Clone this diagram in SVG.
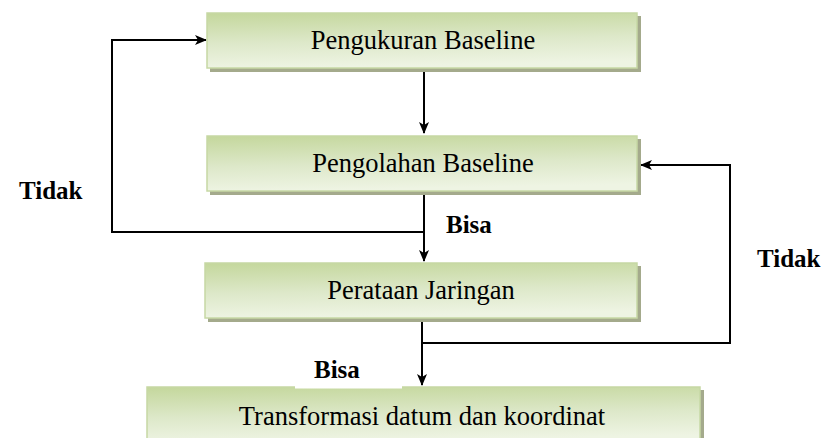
<svg xmlns="http://www.w3.org/2000/svg" width="829" height="438" viewBox="0 0 829 438">
  <defs>
    <linearGradient id="fill" x1="0" y1="0" x2="0.15" y2="1">
      <stop offset="0" stop-color="#c4d79c"/>
      <stop offset="0.55" stop-color="#dde8c9"/>
      <stop offset="1" stop-color="#eef4e3"/>
    </linearGradient>
    <marker id="arrow" viewBox="0 0 12 10" refX="11" refY="5" markerWidth="12" markerHeight="10" markerUnits="userSpaceOnUse" orient="auto">
      <path d="M0,0 L12,5 L0,10 L3,5 Z" fill="#000"/>
    </marker>
  </defs>
  <style>
    .shadow { fill: #a4aa8c; }
    .box { fill: url(#fill); stroke: #c6d8a4; stroke-width: 1.5; }
    .label { font-family: 'Liberation Serif', serif; font-size: 26.5px; fill: #000; text-anchor: middle; }
    .cond { font-family: 'Liberation Serif', serif; font-size: 25px; font-weight: bold; fill: #000; }
    .wire { fill: none; stroke: #000; stroke-width: 2; }
  </style>
  <rect width="829" height="438" fill="#fff"/>

  <g id="connectors">
    <path class="wire" d="M424,69 L424,133" marker-end="url(#arrow)"/>
    <path class="wire" d="M424,191 L424,261" marker-end="url(#arrow)"/>
    <path class="wire" d="M424,232 L112,232 L112,40 L206,40" marker-end="url(#arrow)"/>
    <path class="wire" d="M422,319 L422,385" marker-end="url(#arrow)"/>
    <path class="wire" d="M422,343 L730,343 L730,165 L641,165" marker-end="url(#arrow)"/>
  </g>

  <g id="node-pengukuran">
    <rect class="shadow" x="210" y="16" width="431" height="56"/>
    <rect class="box" x="207" y="13" width="430" height="55"/>
    <text class="label" x="423" y="49">Pengukuran Baseline</text>
  </g>

  <g id="node-pengolahan">
    <rect class="shadow" x="210" y="139" width="431" height="56"/>
    <rect class="box" x="207" y="136" width="430" height="55"/>
    <text class="label" x="423" y="172">Pengolahan Baseline</text>
  </g>

  <g id="node-perataan">
    <rect class="shadow" x="208" y="266" width="433" height="56"/>
    <rect class="box" x="205" y="263" width="432" height="55"/>
    <text class="label" x="421" y="299">Perataan Jaringan</text>
  </g>

  <g id="node-transformasi">
    <rect class="shadow" x="150" y="390" width="554" height="52"/>
    <rect class="box" x="147" y="387" width="553" height="55"/>
    <text class="label" x="422" y="425">Transformasi datum dan koordinat</text>
  </g>

  <g id="labels">
    <text class="cond" x="19" y="199">Tidak</text>
    <text class="cond" x="757" y="267">Tidak</text>
    <text class="cond" x="446" y="233">Bisa</text>
    <rect x="295" y="350" width="107" height="38.5" fill="#fff"/>
    <text class="cond" x="314" y="378">Bisa</text>
  </g>
</svg>
